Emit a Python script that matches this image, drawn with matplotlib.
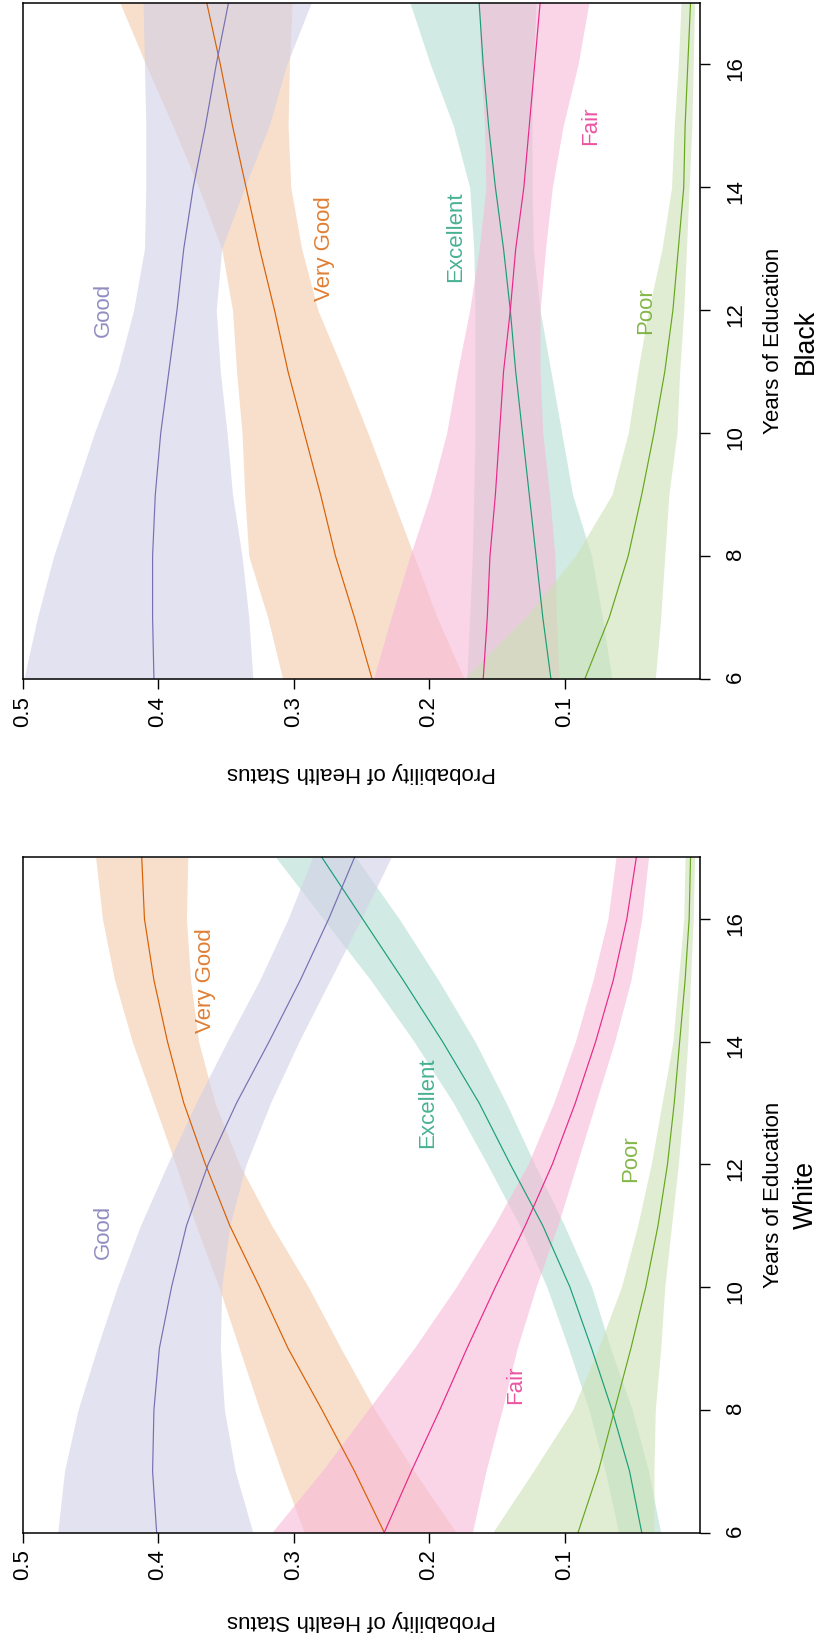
import matplotlib
matplotlib.use("Agg")
import matplotlib.pyplot as plt
import matplotlib.colors as mcolors
import numpy as np

plt.rcParams['font.family'] = ['Liberation Sans', 'DejaVu Sans']

years = [6, 7, 8, 9, 10, 11, 12, 13, 14, 15, 16, 17]
categories = ["Excellent", "Very Good", "Good", "Fair", "Poor"]
colors = {"Good": "#7570B3", "Very Good": "#D95F02", "Excellent": "#1B9E77",
          "Fair": "#E7298A", "Poor": "#66A61E"}

# ---- White ----
white_good = [0.401, 0.404, 0.403, 0.399, 0.390, 0.379, 0.363, 0.342, 0.318, 0.295, 0.274, 0.255]
white_good_lo = [0.330, 0.343, 0.351, 0.354, 0.353, 0.347, 0.335, 0.317, 0.296, 0.273, 0.250, 0.228]
white_good_hi = [0.474, 0.469, 0.459, 0.445, 0.430, 0.413, 0.393, 0.372, 0.349, 0.325, 0.304, 0.286]

white_vgood = [0.233, 0.255, 0.279, 0.304, 0.325, 0.347, 0.365, 0.381, 0.393, 0.403, 0.410, 0.412]
white_vgood_lo = [0.180, 0.211, 0.240, 0.265, 0.289, 0.316, 0.340, 0.358, 0.370, 0.376, 0.379, 0.378]
white_vgood_hi = [0.292, 0.309, 0.325, 0.340, 0.355, 0.372, 0.387, 0.403, 0.419, 0.432, 0.441, 0.446]

white_exc = [0.043, 0.052, 0.065, 0.080, 0.096, 0.116, 0.140, 0.163, 0.190, 0.219, 0.249, 0.279]
white_exc_lo = [0.029, 0.038, 0.050, 0.066, 0.080, 0.100, 0.122, 0.143, 0.166, 0.193, 0.222, 0.254]
white_exc_hi = [0.060, 0.070, 0.082, 0.097, 0.113, 0.133, 0.157, 0.182, 0.211, 0.243, 0.278, 0.313]

white_fair = [0.233, 0.213, 0.192, 0.172, 0.151, 0.129, 0.109, 0.092, 0.077, 0.064, 0.054, 0.047]
white_fair_lo = [0.168, 0.158, 0.146, 0.135, 0.121, 0.105, 0.091, 0.077, 0.063, 0.051, 0.043, 0.038]
white_fair_hi = [0.316, 0.279, 0.245, 0.211, 0.180, 0.152, 0.127, 0.108, 0.092, 0.079, 0.068, 0.062]

white_poor = [0.090, 0.075, 0.063, 0.051, 0.040, 0.031, 0.024, 0.019, 0.015, 0.011, 0.008, 0.007]
white_poor_lo = [0.034, 0.034, 0.033, 0.029, 0.026, 0.021, 0.016, 0.012, 0.009, 0.007, 0.005, 0.004]
white_poor_hi = [0.153, 0.123, 0.094, 0.075, 0.058, 0.046, 0.036, 0.028, 0.020, 0.016, 0.012, 0.011]

# ---- Black ----
black_good = [0.403, 0.404, 0.404, 0.402, 0.398, 0.392, 0.386, 0.381, 0.374, 0.365, 0.357, 0.348]
black_good_lo = [0.330, 0.333, 0.338, 0.345, 0.349, 0.354, 0.357, 0.353, 0.336, 0.318, 0.305, 0.287]
black_good_hi = [0.499, 0.489, 0.477, 0.462, 0.447, 0.430, 0.418, 0.410, 0.409, 0.409, 0.410, 0.411]

black_vgood = [0.242, 0.255, 0.269, 0.280, 0.292, 0.304, 0.314, 0.325, 0.335, 0.345, 0.354, 0.364]
black_vgood_lo = [0.174, 0.194, 0.211, 0.228, 0.245, 0.263, 0.282, 0.294, 0.302, 0.304, 0.303, 0.301]
black_vgood_hi = [0.308, 0.319, 0.333, 0.336, 0.338, 0.342, 0.345, 0.353, 0.370, 0.389, 0.409, 0.428]

black_exc = [0.110, 0.116, 0.121, 0.126, 0.131, 0.136, 0.140, 0.145, 0.151, 0.156, 0.160, 0.163]
black_exc_lo = [0.065, 0.072, 0.080, 0.094, 0.102, 0.110, 0.118, 0.123, 0.124, 0.124, 0.123, 0.121]
black_exc_hi = [0.172, 0.170, 0.168, 0.167, 0.166, 0.166, 0.166, 0.167, 0.170, 0.182, 0.199, 0.214]

black_fair = [0.160, 0.157, 0.155, 0.151, 0.148, 0.145, 0.140, 0.136, 0.130, 0.126, 0.122, 0.118]
black_fair_lo = [0.104, 0.106, 0.107, 0.111, 0.116, 0.118, 0.118, 0.114, 0.109, 0.101, 0.090, 0.082]
black_fair_hi = [0.241, 0.228, 0.214, 0.199, 0.187, 0.179, 0.170, 0.163, 0.158, 0.159, 0.162, 0.163]

black_poor = [0.085, 0.067, 0.053, 0.043, 0.034, 0.026, 0.020, 0.016, 0.012, 0.011, 0.009, 0.007]
black_poor_lo = [0.033, 0.029, 0.026, 0.023, 0.017, 0.015, 0.012, 0.010, 0.008, 0.006, 0.005, 0.004]
black_poor_hi = [0.174, 0.129, 0.092, 0.065, 0.053, 0.046, 0.038, 0.028, 0.021, 0.019, 0.016, 0.014]

# label anchor (probability, years)
white_label_pos = {"Good": (0.440, 10.9), "Very Good": (0.365, 15.0), "Excellent": (0.201, 13.0),
                   "Fair": (0.136, 8.4), "Poor": (0.051, 12.1)}
black_label_pos = {"Good": (0.440, 12.0), "Very Good": (0.277, 13.0), "Excellent": (0.180, 13.2),
                   "Fair": (0.081, 15.0), "Poor": (0.040, 12.0)}

prob_ticks = [0.1, 0.2, 0.3, 0.4, 0.5]
year_ticks = [6, 8, 10, 12, 14, 16]

white = {
    "Good": (white_good, white_good_lo, white_good_hi),
    "Very Good": (white_vgood, white_vgood_lo, white_vgood_hi),
    "Excellent": (white_exc, white_exc_lo, white_exc_hi),
    "Fair": (white_fair, white_fair_lo, white_fair_hi),
    "Poor": (white_poor, white_poor_lo, white_poor_hi),
}
black = {
    "Good": (black_good, black_good_lo, black_good_hi),
    "Very Good": (black_vgood, black_vgood_lo, black_vgood_hi),
    "Excellent": (black_exc, black_exc_lo, black_exc_hi),
    "Fair": (black_fair, black_fair_lo, black_fair_hi),
    "Poor": (black_poor, black_poor_lo, black_poor_hi),
}

W, H = 822, 1644
fig = plt.figure(figsize=(W / 100, H / 100), dpi=100)

FS = 16
FILL_ALPHA = 0.6


def pastel(c, k=1 / 3):
    rgb = np.array(mcolors.to_rgb(c))
    return tuple(1 - (1 - rgb) * k)


def panel(rect, data, label_pos, title, ylab_y):
    ax = fig.add_axes(rect)
    for cat in categories:
        mid, lo, hi = data[cat]
        ax.fill_betweenx(years, lo, hi, color=pastel(colors[cat]), alpha=FILL_ALPHA, lw=0)
    for cat in categories:
        mid, lo, hi = data[cat]
        ax.plot(mid, years, color=colors[cat], lw=0.85)
    for cat in categories:
        px, py = label_pos[cat]
        ax.text(px, py, cat, rotation=90, ha="center", va="center",
                color=colors[cat], alpha=0.8, fontsize=FS)
    ax.set_xlim(0.5, 0.0)
    ax.set_ylim(6, 17)
    ax.set_xticks(prob_ticks)
    ax.set_xticklabels([f"{t:.1f}" for t in prob_ticks])
    ax.set_yticks(year_ticks)
    ax.set_yticklabels([str(t) for t in year_ticks])
    ax.yaxis.tick_right()
    ax.tick_params(axis="x", labelrotation=90, length=7, width=1, pad=5, labelsize=FS)
    ax.tick_params(axis="y", labelrotation=90, length=7, width=1, pad=11, labelsize=FS)
    for s in ax.spines.values():
        s.set_linewidth(1.1)
    b = ax.get_position()
    fig.text(b.x0 + b.width / 2, ylab_y, "Probability of Health Status",
             rotation=180, ha="center", va="center", fontsize=FS)
    fig.text(773 / W, b.y0 + b.height / 2, "Years of Education",
             rotation=90, ha="center", va="center", fontsize=FS)
    fig.text(806 / W, b.y0 + b.height / 2, title,
             rotation=90, ha="center", va="center", fontsize=FS * 1.2)
    return ax


left = 22.5 / W
width = (700 - 22.5) / W
panel([left, 1 - 679 / H, width, 676 / H], black, black_label_pos, "Black", 1 - 772 / H)
panel([left, 1 - 1532.5 / H, width, 675 / H], white, white_label_pos, "White", 1 - 1620 / H)

fig.savefig("out.png", dpi=100)
